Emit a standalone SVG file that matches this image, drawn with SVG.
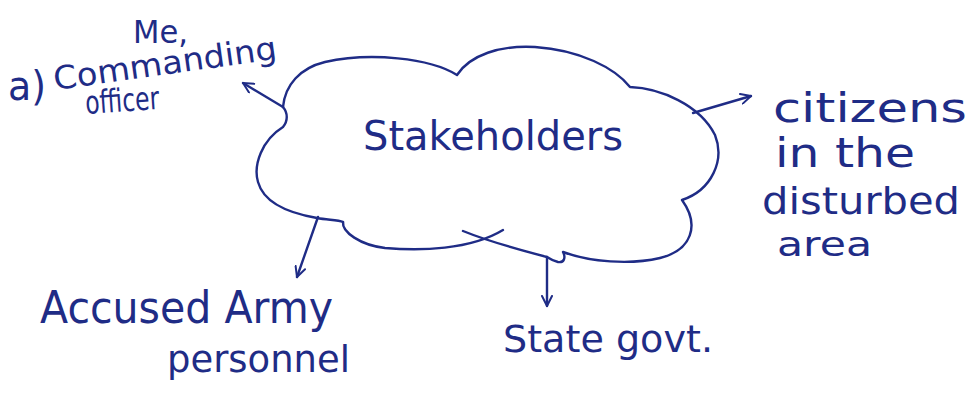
<svg xmlns="http://www.w3.org/2000/svg" width="968" height="398" viewBox="0 0 968 398">
<style>
  .ink { fill: none; stroke: #1f2c86; stroke-width: 2.4; stroke-linecap: round; stroke-linejoin: round; }
  .t { font-family: "DejaVu Sans", "Liberation Sans", sans-serif; fill: #1f2c86; }
</style>
<defs>
  <marker id="head" viewBox="0 0 12 12" refX="11" refY="6" markerWidth="12" markerHeight="12" markerUnits="userSpaceOnUse" orient="auto">
    <path d="M1,1 L11,6 L1,11" fill="none" stroke="#1f2c86" stroke-width="2" stroke-linecap="round" stroke-linejoin="round"/>
  </marker>
</defs>
<rect width="968" height="398" fill="#ffffff"/>

<g id="label-a">
  <text class="t" x="8" y="100" font-size="40" textLength="38" lengthAdjust="spacingAndGlyphs">a)</text>
</g>

<g id="node-commanding-officer">
  <text class="t" x="133" y="43" font-size="32" textLength="55" lengthAdjust="spacingAndGlyphs">Me,</text>
  <text class="t" x="55" y="90" font-size="32" textLength="225" lengthAdjust="spacingAndGlyphs" transform="rotate(-8 55 90)">Commanding</text>
  <text class="t" x="86" y="114" font-size="32" textLength="74" lengthAdjust="spacingAndGlyphs" transform="rotate(-4 86 114)">officer</text>
</g>

<g id="node-stakeholders">
  <path class="ink" d="M283 107 C 285 85, 300 68, 325 62 C 370 52, 430 58, 457 75 C 470 55, 500 45, 535 47 C 580 50, 615 68, 630 87 C 660 88, 700 105, 715 135 C 725 160, 712 190, 682 200 C 700 225, 692 250, 660 258 C 630 265, 590 262, 563 252 C 566 258, 564 263, 558 262 C 554 261, 550 259, 547 257 C 520 250, 490 242, 463 231"/>
  <path class="ink" d="M283 107 C 288 113, 288 121, 283 127 C 262 140, 253 165, 258 182 C 263 200, 282 212, 317 218 C 328 220, 338 220, 343 222"/>
  <path class="ink" d="M343 222 C 342 232, 360 245, 385 248 C 420 251, 470 250, 503 230"/>
  <text class="t" x="363" y="150" font-size="40" textLength="260" lengthAdjust="spacingAndGlyphs">Stakeholders</text>
</g>

<g id="node-citizens">
  <text class="t" x="773" y="122" font-size="40" textLength="194" lengthAdjust="spacingAndGlyphs">citizens</text>
  <text class="t" x="775" y="167" font-size="40" textLength="140" lengthAdjust="spacingAndGlyphs">in the</text>
  <text class="t" x="762" y="214" font-size="38" textLength="198" lengthAdjust="spacingAndGlyphs">disturbed</text>
  <text class="t" x="777" y="256" font-size="34" textLength="95" lengthAdjust="spacingAndGlyphs">area</text>
</g>

<g id="node-army">
  <text class="t" x="40" y="323" font-size="44" textLength="293" lengthAdjust="spacingAndGlyphs">Accused Army</text>
  <text class="t" x="167" y="372" font-size="38" textLength="183" lengthAdjust="spacingAndGlyphs">personnel</text>
</g>

<g id="node-state">
  <text class="t" x="503" y="352" font-size="38" textLength="210" lengthAdjust="spacingAndGlyphs">State govt.</text>
</g>

<g id="connectors">
  <path class="ink" d="M283 107 L 243 83" marker-end="url(#head)"/>
  <path class="ink" d="M693 113 L 751 96" marker-end="url(#head)"/>
  <path class="ink" d="M318 217 L 297 277" marker-end="url(#head)"/>
  <path class="ink" d="M547 257 L 547 306" marker-end="url(#head)"/>
</g>
</svg>
